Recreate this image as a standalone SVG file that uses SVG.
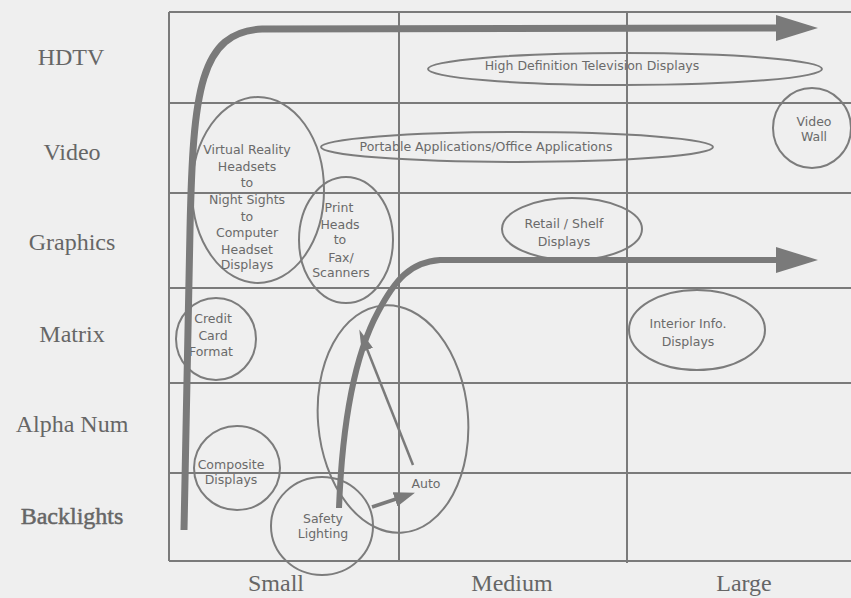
<svg xmlns="http://www.w3.org/2000/svg" width="851" height="598" viewBox="0 0 851 598">
  <style>
    .grid { stroke: #7a7a7a; stroke-width: 2; fill: none; }
    .axis { font-family: "Liberation Serif", "Times New Roman", serif; font-size: 24px; fill: #666; text-anchor: middle; }
    .node ellipse { fill: none; stroke: #7c7c7c; stroke-width: 2; }
    .node text { font-family: "DejaVu Sans", Verdana, sans-serif; font-size: 12.5px; fill: #6a6a6a; text-anchor: middle; }
    .big { fill: none; stroke: #7a7a7a; stroke-width: 7; stroke-linecap: butt; stroke-linejoin: round; }
    .thin { fill: none; stroke: #7a7a7a; stroke-width: 2.5; }
    .mid { fill: none; stroke: #7a7a7a; stroke-width: 3.5; }
  </style>
  <defs>
    <marker id="headBig" markerUnits="userSpaceOnUse" viewBox="0 0 42 26" markerWidth="42" markerHeight="26" refX="1" refY="13" orient="auto">
      <path d="M0,0 L42,13 L0,26 z" fill="#7a7a7a"/>
    </marker>
    <marker id="headThin" markerUnits="userSpaceOnUse" viewBox="0 0 22 12" markerWidth="22" markerHeight="12" refX="1" refY="6" orient="auto">
      <path d="M0,0 L22,6 L0,12 z" fill="#7a7a7a"/>
    </marker>
    <marker id="headMid" markerUnits="userSpaceOnUse" viewBox="0 0 21 15" markerWidth="21" markerHeight="15" refX="1" refY="7.5" orient="auto">
      <path d="M0,0 L21,7.5 L0,15 z" fill="#7a7a7a"/>
    </marker>
  </defs>
  <rect x="0" y="0" width="851" height="598" fill="#efefef"/>

  <g id="grid">
    <path class="grid" d="M169,12 H851 M169,103 H851 M169,193 H851 M169,288 H851 M169,383 H851 M169,473 H851 M169,561 H851"/>
    <path class="grid" d="M169,12 V561 M399,12 V561 M627,12 V563"/>
  </g>

  <g id="axis-labels">
    <text class="axis" x="71" y="65">HDTV</text>
    <text class="axis" x="72" y="160">Video</text>
    <text class="axis" x="72" y="250">Graphics</text>
    <text class="axis" x="72" y="342">Matrix</text>
    <text class="axis" x="72" y="432">Alpha Num</text>
    <text class="axis" x="72" y="524" stroke="#666" stroke-width="0.5">Backlights</text>
    <text class="axis" x="276" y="591">Small</text>
    <text class="axis" x="512" y="591">Medium</text>
    <text class="axis" x="744" y="591">Large</text>
  </g>

  <g id="node-hdtv" class="node">
    <ellipse cx="625" cy="69" rx="197" ry="16"/>
    <text x="592" y="70">High Definition Television Displays</text>
  </g>
  <g id="node-portable" class="node">
    <ellipse cx="517" cy="147" rx="196" ry="15"/>
    <text x="486" y="151">Portable Applications/Office Applications</text>
  </g>
  <g id="node-videowall" class="node">
    <ellipse cx="812" cy="128" rx="39" ry="40"/>
    <text x="814" y="126">Video</text>
    <text x="814" y="141">Wall</text>
  </g>
  <g id="node-vr" class="node">
    <ellipse cx="258" cy="190" rx="66" ry="93"/>
    <text x="247" y="154">Virtual Reality</text>
    <text x="247" y="171">Headsets</text>
    <text x="247" y="187">to</text>
    <text x="247" y="204">Night Sights</text>
    <text x="247" y="221">to</text>
    <text x="247" y="237">Computer</text>
    <text x="247" y="254">Headset</text>
    <text x="247" y="269">Displays</text>
  </g>
  <g id="node-print" class="node">
    <ellipse cx="346" cy="240" rx="47" ry="63"/>
    <text x="339" y="212">Print</text>
    <text x="340" y="229">Heads</text>
    <text x="340" y="244">to</text>
    <text x="341" y="262">Fax/</text>
    <text x="341" y="277">Scanners</text>
  </g>
  <g id="node-retail" class="node">
    <ellipse cx="572" cy="229" rx="70" ry="31"/>
    <text x="564" y="228">Retail / Shelf</text>
    <text x="564" y="246">Displays</text>
  </g>
  <g id="node-credit" class="node">
    <ellipse cx="216" cy="339" rx="40" ry="41"/>
    <text x="213" y="323">Credit</text>
    <text x="213" y="340">Card</text>
    <text x="211" y="356">Format</text>
  </g>
  <g id="node-interior" class="node">
    <ellipse cx="697" cy="330" rx="68" ry="40"/>
    <text x="688" y="328">Interior Info.</text>
    <text x="688" y="346">Displays</text>
  </g>
  <g id="node-auto" class="node">
    <ellipse cx="393" cy="419" rx="75" ry="114" transform="rotate(-5 393 419)"/>
    <text x="426" y="488">Auto</text>
  </g>
  <g id="node-composite" class="node">
    <ellipse cx="237" cy="468" rx="43" ry="42"/>
    <text x="231" y="469">Composite</text>
    <text x="231" y="484">Displays</text>
  </g>
  <g id="node-safety" class="node">
    <ellipse cx="322" cy="526" rx="51" ry="49"/>
    <text x="323" y="523">Safety</text>
    <text x="323" y="538">Lighting</text>
  </g>

  <g id="connectors">
    <path class="big" d="M184,530 L190,230 C193,90 200,32 262,29 L777,28" marker-end="url(#headBig)"/>
    <path class="big" style="stroke-width:6" d="M339,508 C342,430 352,360 378,312 C395,280 410,262 440,260 L777,260" marker-end="url(#headBig)"/>
    <path class="thin" d="M413,465 L367,349" marker-end="url(#headThin)"/>
    <path class="mid" d="M372,507 L396,499" marker-end="url(#headMid)"/>
  </g>
</svg>
